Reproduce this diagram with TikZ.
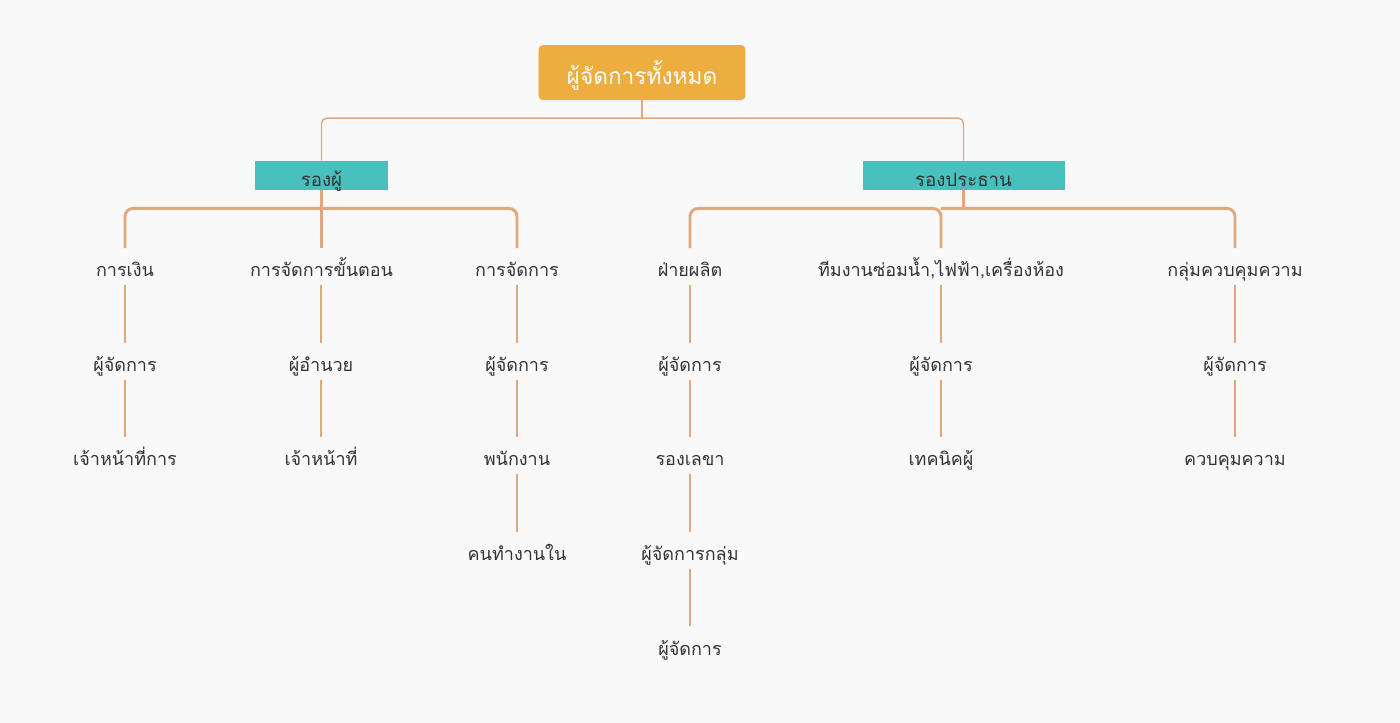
\documentclass[tikz,border=0pt]{standalone}
\usepackage{fontspec}
\newfontfamily\thaifont[Script=Thai]{Loma}
\usetikzlibrary{shadows}
\definecolor{bgcol}{HTML}{F9F9F9}
\definecolor{rootcol}{HTML}{EDAE3F}
\definecolor{vpcol}{HTML}{48C0BE}
\definecolor{linkcol}{HTML}{E3A77B}
\definecolor{txtcol}{HTML}{333333}
\tikzset{
    rootbox/.style={fill=rootcol, rounded corners=3pt, minimum width=155pt, minimum height=41pt,
        text=white, font=\thaifont\fontsize{17}{17}\selectfont, text height=18.5pt, text depth=0pt,
        drop shadow={opacity=0.08, shadow xshift=0pt, shadow yshift=-1.5pt}},
    vpbox/.style={fill=vpcol, minimum height=22pt, inner sep=0pt, text=txtcol,
        text height=16pt, text depth=0pt, font=\thaifont\fontsize{14}{14}\selectfont},
    lbl/.style={text=txtcol, font=\thaifont\fontsize{13.5}{13.5}\selectfont, anchor=base,
        inner ysep=0pt, text height=21.5pt, text depth=6pt},
    thinlink/.style={draw=linkcol, line width=1.1pt, rounded corners=4pt},
    thicklink/.style={draw=linkcol, line width=2.2pt, rounded corners=6pt},
}
\begin{document}
\begin{tikzpicture}[x=0.75pt, y=-0.75pt]
    % Background
    \fill[bgcol] (0,0) rectangle (1400,723);
    \useasboundingbox (0,0) rectangle (1400,723);

    % Top levels
    \node[rootbox] (root) at (642,72.5) {ผู้จัดการทั้งหมด};
    \node[vpbox, minimum width=100pt] (vpa) at (321.5,175.5) {รองผู้};
    \node[vpbox, minimum width=151.5pt] (vpb) at (963.5,175.5) {รองประธาน};

    % Second level
    \node[lbl] (fin)  at (125,277)  {การเงิน};
    \node[lbl] (proc) at (321.5,277)  {การจัดการขั้นตอน};
    \node[lbl] (mgmt) at (517,277)  {การจัดการ};
    \node[lbl] (prod) at (690,277)  {ฝ่ายผลิต};
    \node[lbl] (tech) at (941,277)  {ทีมงานซ่อมน้ำ,ไฟฟ้า,เครื่องห้อง};
    \node[lbl] (qc)   at (1235,277) {กลุ่มควบคุมความ};

    % Chains below
    \foreach \name/\x/\y/\txt in {
        fina/125/372/ผู้จัดการ, finb/125/466/เจ้าหน้าที่การ,
        proca/321/372/ผู้อำนวย, procb/321/466/เจ้าหน้าที่,
        mgmta/517/372/ผู้จัดการ, mgmtb/517/466/พนักงาน, mgmtc/517/561/คนทำงานใน,
        proda/690/372/ผู้จัดการ, prodb/690/466/รองเลขา, prodc/690/561/ผู้จัดการกลุ่ม, prodd/690/655/ผู้จัดการ,
        techa/941/372/ผู้จัดการ, techb/941/466/เทคนิคผู้,
        qca/1235/372/ผู้จัดการ, qcb/1235/466/ควบคุมความ} {
        \node[lbl] (\name) at (\x,\y) {\txt};
    }

    % Junction points
    \path (root.south) -- ++(0,18) coordinate (rootjoin);
    \path (vpa.south) -- ++(0,18) coordinate (vpajoin);
    \path (vpb.south) -- ++(0,18) coordinate (vpbjoin);

    % Links from the root
    \draw[thinlink] (root.south) -- (rootjoin);
    \draw[thinlink] (vpa.north) |- (rootjoin) -| (vpb.north);

    % Links from the vice boxes
    \draw[thicklink] (fin.north) |- (vpajoin) -| (mgmt.north);
    \draw[thicklink] (vpa.south) -- (proc.north);
    \draw[thicklink] (prod.north) |- (tech.north |- vpbjoin) -- (tech.north);
    \draw[thicklink] (tech.north |- vpbjoin) -| (qc.north);
    \draw[thicklink] (vpb.south) -- (vpbjoin);

    % Links along the chains
    \foreach \a/\b in {fin/fina, fina/finb, proca/procb,
        mgmt/mgmta, mgmta/mgmtb, mgmtb/mgmtc,
        prod/proda, proda/prodb, prodb/prodc, prodc/prodd,
        tech/techa, techa/techb, qc/qca, qca/qcb}
        \draw[thinlink] (\a.south) -- (\b.north);
    \draw[thinlink] (proc.south -| proca.north) -- (proca.north);
\end{tikzpicture}
\end{document}
